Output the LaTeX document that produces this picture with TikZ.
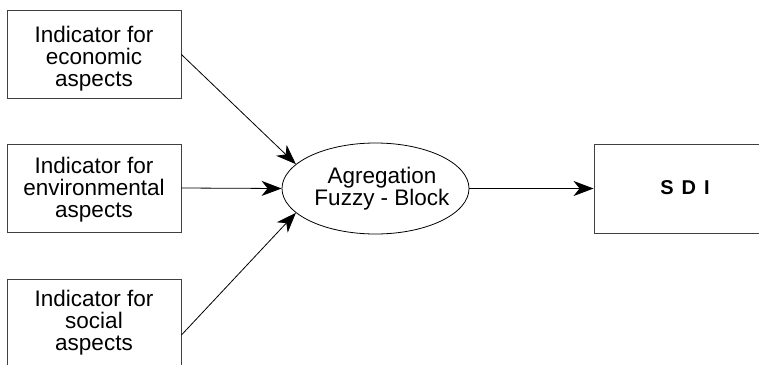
\documentclass[tikz,border=0pt]{standalone}
\usepackage{fontspec}
\setmainfont{Liberation Sans}
\usetikzlibrary{shapes.geometric,arrows.meta}
\begin{document}
\begin{tikzpicture}[x=1pt,y=-1pt,
  boxstyle/.style={draw=black!75,line width=0.9pt,rectangle,inner sep=0pt},
  txt/.style={font=\fontsize{22.5}{22}\selectfont,align=center,inner sep=0pt},
  conn/.style={line width=0.8pt,-{Stealth[length=20pt,width=15pt,inset=6pt]}}]
\useasboundingbox (0,0) rectangle (759,364);
\node[boxstyle,minimum width=174pt,minimum height=88pt] (b1) at (94,54.5) {};
\node[txt] (t1) at (94,59) {Indicator for\\economic\\aspects};
\node[boxstyle,minimum width=174pt,minimum height=88pt] (b2) at (94,188) {};
\node[txt] (t2) at (94,190) {Indicator for\\environmental\\aspects};
\node[boxstyle,minimum width=174pt,minimum height=112pt] (b3) at (94,335) {};
\node[txt] (t3) at (94,323) {Indicator for\\social\\aspects};
\node[draw=black,line width=0.8pt,ellipse,minimum width=187pt,minimum height=91pt,inner sep=0pt] (ag) at (375.5,188.5) {};
\node[txt] (agt) at (382,189) {Agregation\\Fuzzy - Block};
\node[boxstyle,minimum width=182pt,minimum height=89pt] (sdi) at (685,188.5) {};
\node[txt,font=\fontsize{20}{22}\selectfont\bfseries] (sdit) at (685,188) {S\hspace{8pt}D\hspace{8pt}I};
\draw[conn] (b1.east) -- (ag.163);
\draw[conn] (b2.east) -- (ag.180);
\draw[conn] (b3.east) -- (ag.197);
\draw[conn] (ag.east) -- (sdi.west);
\end{tikzpicture}
\end{document}
